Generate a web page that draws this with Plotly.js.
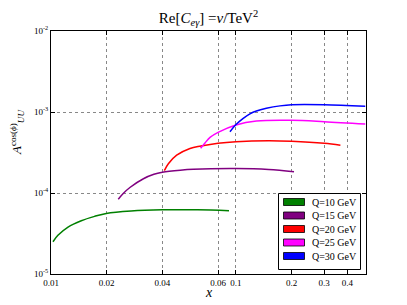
<!DOCTYPE html>
<html><head><meta charset="utf-8">
<script src="https://cdn.plot.ly/plotly-3.0.1.min.js"></script>
<style>html,body{margin:0;padding:0;background:#fff}#plot{width:407px;height:305px}</style>
</head><body><div id="plot"></div>
<script>
// ---- data ----
const seriesNames = ['Q=10 GeV', 'Q=15 GeV', 'Q=20 GeV', 'Q=25 GeV', 'Q=30 GeV'];
const seriesColors = ['#008000', '#800080', '#ff0000', '#ff00ff', '#0000ff'];

const xQ10 = [0.01025, 0.0109, 0.01236, 0.01458, 0.01723, 0.0199, 0.0271, 0.040, 0.062, 0.0917];
const yQ10 = [2.5e-5, 3.0e-5, 3.8e-5, 4.55e-5, 5.15e-5, 5.6e-5, 6.0e-5, 6.2e-5, 6.2e-5, 6.04e-5];

const xQ15 = [0.0231, 0.0245, 0.0267, 0.0316, 0.036, 0.040, 0.050, 0.0588, 0.10, 0.15, 0.206];
const yQ15 = [8.36e-5, 9.8e-5, 1.17e-4, 1.5e-4, 1.7e-4, 1.8e-4, 1.91e-4, 1.96e-4, 2.0e-4, 1.95e-4, 1.83e-4];

const xQ20 = [0.041, 0.0431, 0.0478, 0.0564, 0.0647, 0.080, 0.10, 0.15, 0.20, 0.30, 0.367];
const yQ20 = [1.89e-4, 2.3e-4, 2.93e-4, 3.55e-4, 3.8e-4, 4.11e-4, 4.3e-4, 4.42e-4, 4.35e-4, 4.1e-4, 3.88e-4];

const xQ25 = [0.0644, 0.068, 0.0724, 0.080, 0.10, 0.129, 0.20, 0.30, 0.50];
const yQ25 = [3.56e-4, 4.15e-4, 4.85e-4, 5.6e-4, 6.91e-4, 7.74e-4, 7.9e-4, 7.6e-4, 7.11e-4];

const xQ30 = [0.0928, 0.10, 0.109, 0.119, 0.129, 0.146, 0.173, 0.20, 0.30, 0.50];
const yQ30 = [5.71e-4, 7.0e-4, 8.3e-4, 9.5e-4, 1.03e-3, 1.11e-3, 1.19e-3, 1.23e-3, 1.23e-3, 1.175e-3];

const xTickVals = [0.01, 0.02, 0.04, 0.08, 0.1, 0.2, 0.3, 0.4];
const xTickText = ['0.01', '0.02', '0.04', '0.06', '0.1', '0.2', '0.3', '0.4'];
const yTickVals = [1e-5, 1e-4, 1e-3, 1e-2];
const yTickText = ['10<sup>-5</sup>', '10<sup>-4</sup>', '10<sup>-3</sup>', '10<sup>-2</sup>'];

const xs = [xQ10, xQ15, xQ20, xQ25, xQ30];
const ys = [yQ10, yQ15, yQ20, yQ25, yQ30];

// ---- layout geometry ----
const FONT = 'Liberation Serif';
const L = 51, R = 366, T = 31, B = 274;
const W = R - L, H = B - T;
const px2x = p => (p - L) / W;
const py2y = p => (B - p) / H;

const traces = xs.map((x, i) => ({
  type: 'scatter', mode: 'lines', x: x, y: ys[i], name: seriesNames[i],
  line: {color: seriesColors[i], width: 1.5, shape: 'spline', smoothing: 1},
  showlegend: false, hoverinfo: 'skip'
}));

const shapes = [{
  type: 'rect', xref: 'paper', yref: 'paper',
  x0: px2x(278.5), x1: px2x(360.5), y0: py2y(269.5), y1: py2y(193.5),
  line: {color: '#000', width: 1}, fillcolor: '#fff'
}];
const annotations = [];
seriesNames.forEach((n, i) => {
  const cy = 202 + 13.5 * i;
  shapes.push({
    type: 'rect', xref: 'paper', yref: 'paper',
    x0: px2x(283.5), x1: px2x(304.5), y0: py2y(cy + 3.5), y1: py2y(cy - 3.5),
    line: {color: '#000', width: 0.8}, fillcolor: seriesColors[i]
  });
  annotations.push({
    xref: 'paper', yref: 'paper', x: px2x(310), y: py2y(cy),
    xanchor: 'left', yanchor: 'middle', showarrow: false, text: n,
    font: {family: FONT, size: 10, color: '#000'}
  });
});
annotations.push({
  xref: 'paper', yref: 'paper', x: px2x(208.5), y: py2y(292),
  xanchor: 'center', yanchor: 'middle', showarrow: false, text: '<i>x</i>',
  font: {family: FONT, size: 14, color: '#000'}
});
annotations.push({
  xref: 'paper', yref: 'paper', x: px2x(17), y: py2y(132),
  xanchor: 'center', yanchor: 'middle', showarrow: false, textangle: -90,
  text: '<i>A</i><sup>cos(<i>ϕ</i>)</sup><sub><i>UU</i></sub>',
  font: {family: FONT, size: 13, color: '#000'}
});

const axisCommon = {
  type: 'log', showline: true, linecolor: '#000', linewidth: 1, mirror: 'ticks',
  ticks: 'inside', ticklen: 4, tickcolor: '#000', tickwidth: 1,
  showgrid: true, gridcolor: '#888', gridwidth: 1, griddash: 'dot',
  zeroline: false, tickmode: 'array',
  tickfont: {family: FONT, size: 9, color: '#000'}
};

const layout = {
  width: 407, height: 305,
  margin: {l: L, r: 407 - R, t: T, b: 305 - B, pad: 0},
  paper_bgcolor: '#fff', plot_bgcolor: '#fff',
  showlegend: false,
  title: {
    text: 'Re[<i>C</i><sub><i>eγ</i></sub>] =<i>v</i>/TeV<sup>2</sup>',
    font: {family: FONT, size: 15, color: '#000'},
    xref: 'paper', x: 0.5, xanchor: 'center',
    yref: 'container', y: (305 - 18) / 305, yanchor: 'middle'
  },
  xaxis: Object.assign({}, axisCommon, {
    range: [-2, -0.297], tickvals: xTickVals, ticktext: xTickText
  }),
  yaxis: Object.assign({}, axisCommon, {
    range: [-5, -2], tickvals: yTickVals, ticktext: yTickText
  }),
  shapes: shapes,
  annotations: annotations
};

Plotly.newPlot('plot', traces, layout, {staticPlot: true, displayModeBar: false});
</script>
</body></html>
